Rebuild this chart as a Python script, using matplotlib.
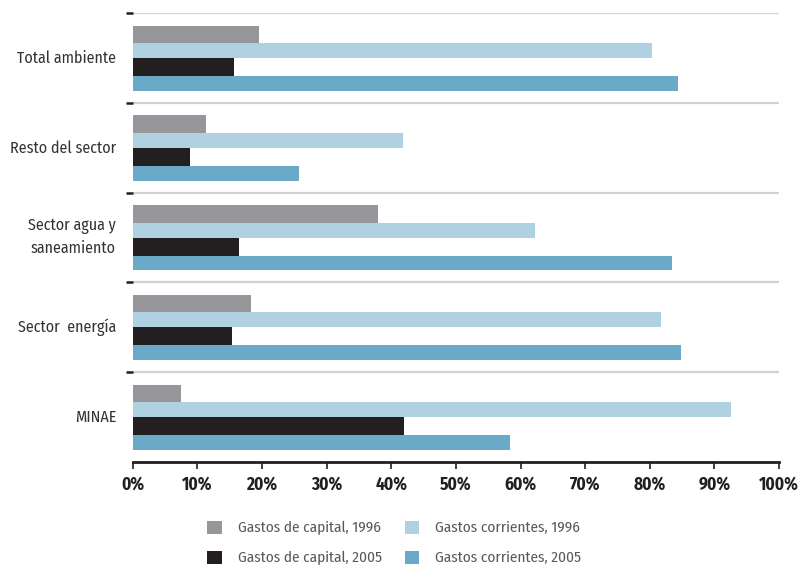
import numpy as np
import matplotlib.pyplot as plt

categories = ["Total ambiente", "Resto del sector", "Sector agua y\nsaneamiento",
              "Sector  energía", "MINAE"]
capital_1996 = [19.6, 11.4, 37.9, 18.3, 7.5]
corrientes_1996 = [80.4, 41.8, 62.2, 81.8, 92.6]
capital_2005 = [15.7, 8.8, 16.5, 15.3, 41.9]
corrientes_2005 = [84.4, 25.7, 83.5, 84.8, 58.3]
series_labels = ["Gastos de capital, 1996", "Gastos corrientes, 1996",
                 "Gastos de capital, 2005", "Gastos corrientes, 2005"]
xticks = np.arange(0, 101, 10)

colors = ["#97979b", "#afd1e1", "#231f20", "#6aaac8"]
# bar thickness per series (fraction of a category slot), stacked top to bottom
heights = [0.197, 0.165, 0.200, 0.165]
top_gap = 0.139

plt.rcParams['font.family'] = ['Fira Sans Condensed', 'Asap Condensed', 'DejaVu Sans']

fig = plt.figure(figsize=(8.01, 5.68), dpi=100)
ax = fig.add_axes([0.1657, 0.1871, 0.8069, 0.7895])

ypos = np.arange(len(categories))
series = [capital_1996, corrientes_1996, capital_2005, corrientes_2005]
handles = []
offset = top_gap
for vals, c, h, lab in zip(series, colors, heights, series_labels):
    b = ax.barh(ypos - 0.5 + offset, vals, height=h, align='edge', color=c,
                linewidth=0, label=lab)
    handles.append(b)
    offset += h

# separators between categories
for s in np.arange(-0.5, len(categories) - 0.5, 1):
    ax.axhline(s, color="#d2d2d2", lw=1.6, zorder=0)

ax.set_xlim(0, 100)
ax.set_ylim(len(categories) - 0.5, -0.5)

ax.set_yticks(ypos)
ax.set_yticklabels(categories, fontsize=11.5, color="#333333", ha='right',
                   va='center', linespacing=1.5)
ax.tick_params(axis='y', which='major', length=0, pad=12)
ax.set_yticks(np.arange(-0.5, len(categories) - 0.5, 1), minor=True)
ax.tick_params(axis='y', which='minor', length=5, width=1.8, color="#231f20")

ax.set_xticks(xticks)
ax.set_xticklabels([f"{t}%" for t in xticks], fontsize=12.5, fontweight='bold',
                   color="#231f20")
ax.tick_params(axis='x', length=5, width=1.2, color="#231f20", pad=5)

for side in ["top", "right", "left"]:
    ax.spines[side].set_visible(False)
ax.spines["bottom"].set_linewidth(2)
ax.spines["bottom"].set_color("#231f20")

order = [0, 2, 1, 3]
fig.legend([handles[i] for i in order], [series_labels[i] for i in order],
           ncol=2, loc='center', bbox_to_anchor=(0.492, 0.044), frameon=False,
           prop={'size': 11}, labelcolor="#58595b",
           handlelength=0.95, handleheight=0.95,
           handletextpad=1.05, columnspacing=1.5, labelspacing=1.0)

fig.savefig("out.png", dpi=100)
